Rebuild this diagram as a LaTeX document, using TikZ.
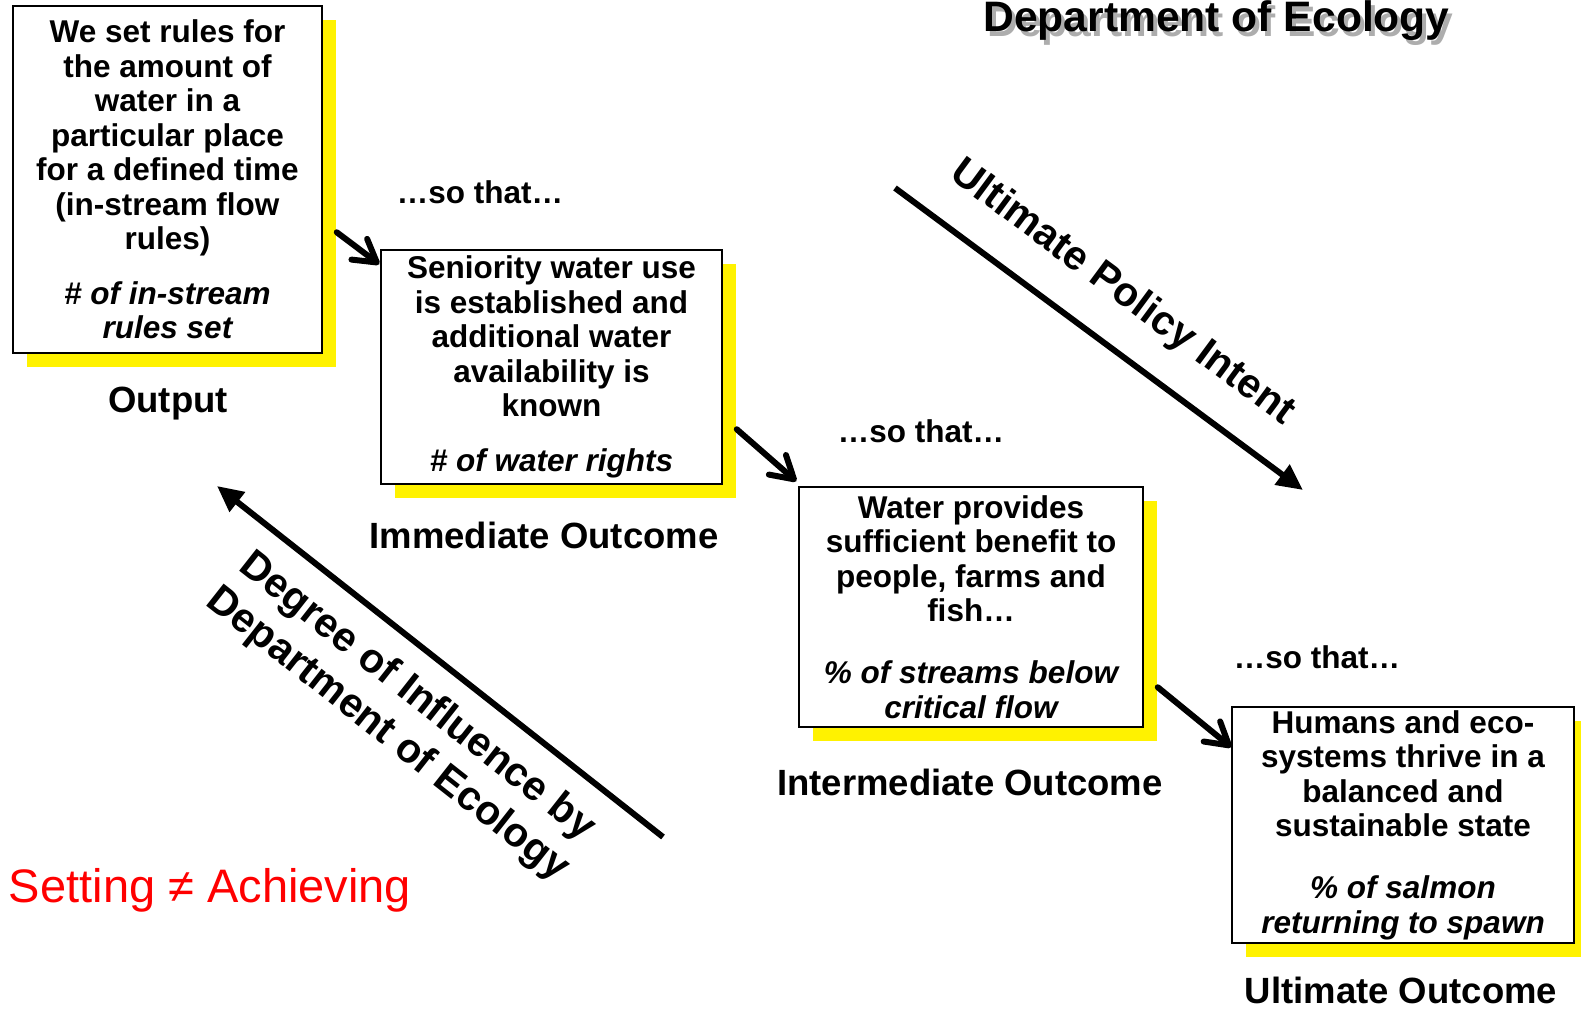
\documentclass[tikz,border=0pt]{standalone}
\usepackage{fontspec}
\setmainfont{Liberation Sans}
\usetikzlibrary{arrows.meta,shadows,calc}
\tikzset{
 box/.style={draw=black, line width=0.75pt, fill=white, align=center,
   font=\fontsize{15.75}{17.25}\selectfont\bfseries, inner sep=0pt,
   drop shadow={shadow xshift=7pt, shadow yshift=-7pt, fill=yellow, opacity=1, draw=none}},
 lbl/.style={font=\fontsize{18.25}{22}\selectfont\bfseries, anchor=base, inner sep=0pt},
 sothat/.style={font=\fontsize{15.75}{17.25}\selectfont\bfseries, anchor=base, inner sep=0pt},
 conn/.style={line width=3pt, line cap=round, -{Straight Barb[length=11pt,width=13pt,line cap=round,line join=round]}},
 bigarrow/.style={line width=3pt, -{Triangle[length=13pt,width=12pt]}},
 rottext/.style={font=\fontsize{20.5}{24}\selectfont\bfseries, align=center, inner sep=0pt},
}
\begin{document}
\begin{tikzpicture}[x=0.5pt,y=-0.5pt]
\useasboundingbox (0,0) rectangle (1581,1012);

% title with gray shadow
\node[lbl, text=black!32, font=\fontsize{21.3}{24}\selectfont\bfseries] (titleshadow) at (1220.5,36) {Department of Ecology};
\node[lbl, font=\fontsize{21.3}{24}\selectfont\bfseries] (title) at (1216.5,32) {Department of Ecology};

% boxes
\node[box, minimum width=154.5pt, minimum height=173.5pt] (b1) at (167.5,179.5)
 {We set rules for\\the amount of\\water in a\\particular place\\for a defined time\\(in-stream flow\\rules)\\[10pt]\itshape \# of in-stream\\\itshape rules set};
\node[box, minimum width=170.5pt, minimum height=117pt] (b2) at (551.5,367)
 {Seniority water use\\is established and\\additional water\\availability is\\known\\[10pt]\itshape \# of water rights};
\node[box, minimum width=172pt, minimum height=120pt] (b3) at (971,607)
 {Water provides\\sufficient benefit to\\people, farms and\\fish\ldots\\[13.75pt]\itshape \% of streams below\\\itshape critical flow};
\node[box, minimum width=171pt, minimum height=118pt] (b4) at (1403,825)
 {Humans and eco-\\systems thrive in a\\balanced and\\sustainable state\\[13.75pt]\itshape \% of salmon\\\itshape returning to spawn};

% labels
\node[lbl] (l1) at (168,412) {Output};
\node[lbl] (l2) at (544,548) {Immediate Outcome};
\node[lbl] (l3) at (970,795) {Intermediate Outcome};
\node[lbl] (l4) at (1401,1003) {Ultimate Outcome};

\node[sothat] (s1) at (480,203) {…so that…};
\node[sothat] (s2) at (921,442) {…so that…};
\node[sothat] (s3) at (1317,668) {…so that…};

% connectors
\draw[conn] ($(b1.north east)+(14,227)$) -- ($(b2.north west)+(-1,15)$);
\draw[conn] ($(b2.north east)+(14,180)$) -- ($(b3.north west)+(-2,-5)$);
\draw[conn] ($(b3.north east)+(14,201)$) -- ($(b4.north west)+(0,41)$);

% big arrows
\coordinate (upA) at (895,188);
\coordinate (upB) at (1303,490);
\draw[bigarrow] (upA) -- (upB);
\node[rottext, rotate=-36.5] (upt) at (1122,293) {Ultimate Policy Intent};

\coordinate (dgA) at (663,837);
\coordinate (dgB) at (217,486);
\draw[bigarrow] (dgA) -- (dgB);
\node[rottext, rotate=-38.2] (dgt) at (402,716) {Degree of Influence by\\Department of Ecology};

\node[anchor=base, inner sep=0pt, text=red, font=\fontsize{23.5}{28}\selectfont] (sa) at (210,902) {Setting ≠ Achieving};
\end{tikzpicture}
\end{document}
